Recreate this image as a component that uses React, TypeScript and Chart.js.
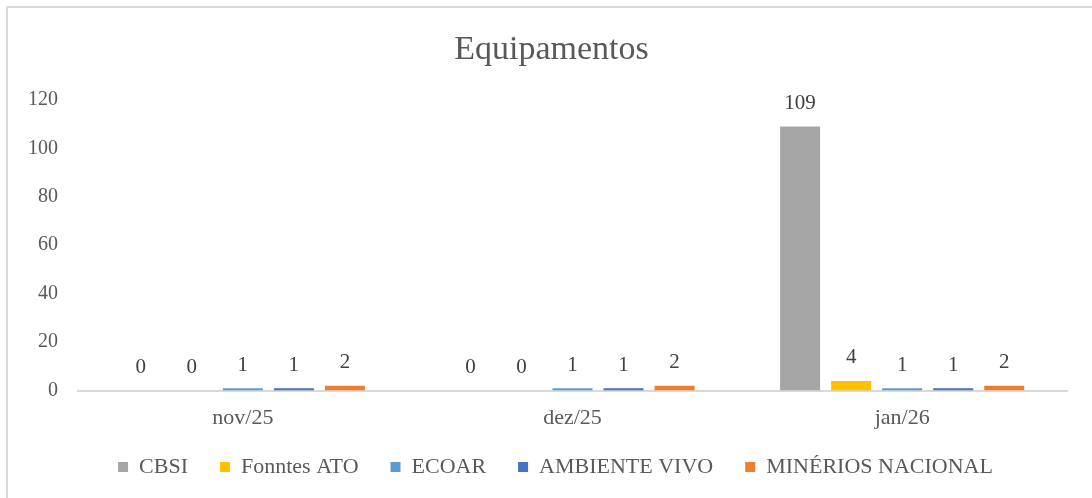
import React, { useEffect, useRef } from "react";
import { Chart, registerables } from "chart.js";

Chart.register(...registerables);

const categories = ["nov/25", "dez/25", "jan/26"];
const seriesNames = ["CBSI", "Fonntes ATO", "ECOAR", "AMBIENTE VIVO", "MINÉRIOS NACIONAL"];
const cbsi = [0, 0, 109];
const fonntesAto = [0, 0, 4];
const ecoar = [1, 1, 1];
const ambienteVivo = [1, 1, 1];
const minerios = [2, 2, 2];
const seriesColors = ["#A5A5A5", "#FFC000", "#5B9BD5", "#4472C4", "#ED7D31"];
const yMax = 120;
const yStep = 20;

const FONT = "'Liberation Serif', 'Times New Roman', serif";

const dataLabels = {
  id: "dataLabels",
  afterDatasetsDraw(chart: any) {
    const ctx = chart.ctx;
    ctx.save();
    ctx.font = `21px ${FONT}`;
    ctx.fillStyle = "#404040";
    ctx.textAlign = "center";
    ctx.textBaseline = "middle";
    chart.data.datasets.forEach((ds: any, i: number) => {
      const meta = chart.getDatasetMeta(i);
      meta.data.forEach((bar: any, j: number) => {
        ctx.fillText(String(ds.data[j]), bar.x, bar.y - 23);
      });
    });
    ctx.restore();
  },
};

const shiftBoxes = {
  id: "shiftBoxes",
  afterLayout(chart: any) {
    const l = chart.legend;
    if (l) {
      l.top -= 21;
      l.bottom -= 21;
      l.left += 18;
      l.right += 18;
    }
    const t = chart.titleBlock;
    if (t) {
      t.left += 14;
      t.right += 14;
    }
  },
};

export default function App() {
  const ref = useRef<HTMLCanvasElement | null>(null);
  useEffect(() => {
    if (!ref.current) return;
    const values = [cbsi, fonntesAto, ecoar, ambienteVivo, minerios];
    const chart = new Chart(ref.current, {
      type: "bar",
      data: {
        labels: categories,
        datasets: seriesNames.map((name, i) => ({
          label: name,
          data: values[i],
          backgroundColor: seriesColors[i],
          borderWidth: 0,
          categoryPercentage: 0.774,
          barPercentage: 0.784,
        })),
      },
      options: {
        responsive: false,
        animation: false,
        layout: { padding: { top: 0, left: 8, right: 25, bottom: -11 } },
        plugins: {
          title: {
            display: true,
            text: "Equipamentos",
            color: "#595959",
            font: { family: FONT, size: 34, weight: "normal" },
            padding: { top: 30, bottom: 29 },
          },
          legend: {
            position: "bottom",
            labels: {
              boxWidth: 10,
              boxHeight: 10,
              padding: 32,
              color: "#595959",
              font: { family: FONT, size: 22 },
            },
          },
          tooltip: { enabled: false },
        },
        scales: {
          x: {
            grid: { display: false, drawTicks: false },
            border: { display: true, color: "#D9D9D9", width: 2 },
            ticks: { color: "#595959", font: { family: FONT, size: 22 }, padding: 14 },
          },
          y: {
            min: 0,
            max: yMax,
            grid: { display: false, drawTicks: false },
            border: { display: false },
            ticks: { stepSize: yStep, color: "#595959", font: { family: FONT, size: 20 }, padding: 20 },
          },
        },
      },
      plugins: [dataLabels, shiftBoxes],
    });
    return () => chart.destroy();
  }, []);
  return (
    <div style={{ position: "fixed", left: 0, top: 0, width: 1092, height: 498, background: "#fff", overflow: "hidden" }}>
      <div style={{ position: "absolute", left: 6, top: 6, width: 1100, height: 520, border: "2px solid #D9D9D9", boxSizing: "border-box" }} />
      <canvas ref={ref} width={1092} height={498} style={{ position: "absolute", left: 0, top: 0 }} />
    </div>
  );
}
